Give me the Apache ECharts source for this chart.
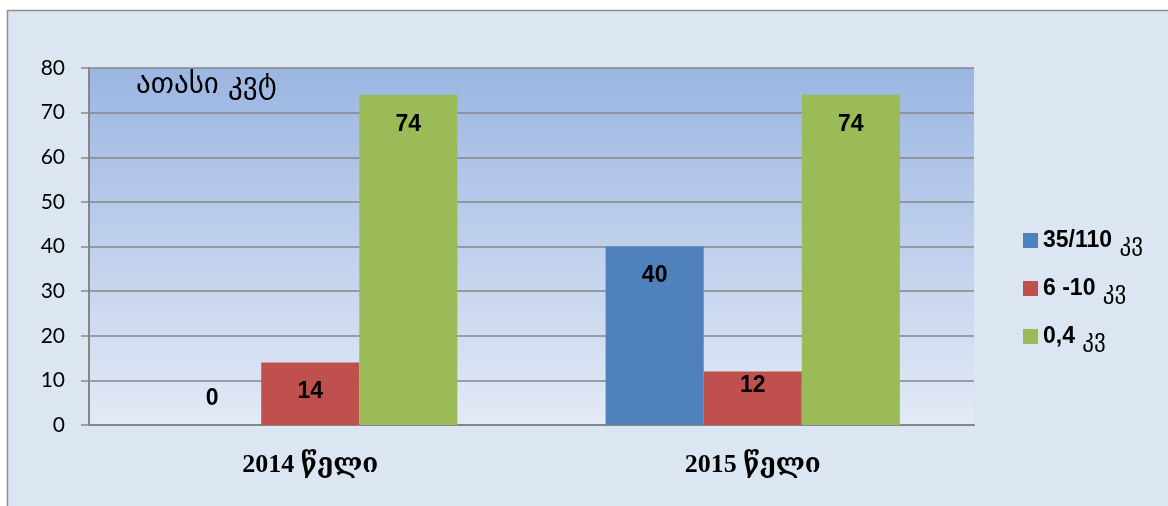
<!DOCTYPE html>
<html>
<head>
<meta charset="utf-8">
<script src="https://cdn.jsdelivr.net/npm/echarts@6/dist/echarts.min.js"></script>
<style>
  html, body { margin: 0; padding: 0; background: #fff; }
  #chart { width: 1168px; height: 506px; }
</style>
</head>
<body>
<div id="chart"></div>
<script>
// data
const categories = ['2014 წელი', '2015 წელი'];
const seriesNames = ['35/110 კვ', '6 -10 კვ', '0,4 კვ'];
const seriesColors = ['#4f81bd', '#c0504d', '#9bbb59'];
const values110 = [0, 40];
const values10 = [14, 12];
const values04 = [74, 74];
const yTicks = [0, 10, 20, 30, 40, 50, 60, 70, 80];
const unitLabel = 'ათასი კვტ';

const allValues = [values110, values10, values04];

const myChart = echarts.init(document.getElementById('chart'));

// label placement, a bit like Excel's "inside end"
function labelFor(v) {
  if (v === 0) return { position: 'top', distance: 15 };
  if (v < 13) return { position: 'insideTop', distance: 3 };
  return { position: 'insideTop', distance: 18 };
}

const series = seriesNames.map(function (name, i) {
  return {
    name: name,
    type: 'bar',
    barGap: '0%',
    barCategoryGap: '33.5%',
    itemStyle: { color: seriesColors[i] },
    label: {
      show: true,
      color: '#000',
      fontFamily: '"Liberation Sans", Arial, sans-serif',
      fontWeight: 'bold',
      fontSize: 23
    },
    data: allValues[i].map(function (v) {
      return { value: v, label: labelFor(v) };
    })
  };
});

const option = {
  backgroundColor: '#ffffff',
  animation: false,
  graphic: [
    {
      type: 'rect',
      z: -10,
      silent: true,
      shape: { x: 7.5, y: 10.5, width: 1200, height: 600 },
      style: { fill: '#dce6f2', stroke: '#8e8e8e', lineWidth: 1.5 }
    },
    {
      type: 'text',
      left: 136,
      top: 71,
      z: 10,
      style: {
        text: unitLabel,
        fill: '#000',
        font: '29px "DejaVu Sans", sans-serif'
      }
    }
  ],
  grid: {
    left: 89,
    right: 194,
    top: 68,
    bottom: 81,
    show: true,
    borderWidth: 0,
    backgroundColor: new echarts.graphic.LinearGradient(0, 0, 0, 1, [
      { offset: 0, color: '#9bb6e2' },
      { offset: 1, color: '#e3eaf6' }
    ])
  },
  legend: {
    orient: 'vertical',
    left: 1018,
    top: 220,
    itemWidth: 15,
    itemHeight: 15,
    itemGap: 17,
    icon: 'rect',
    data: seriesNames,
    formatter: function (name) {
      const parts = name.split(' კვ');
      return '{n|' + parts[0] + '}{g| კვ}';
    },
    textStyle: {
      color: '#000',
      rich: {
        n: {
          fontSize: 23,
          lineHeight: 28,
          fontWeight: 'bold',
          fontFamily: '"Liberation Sans", Arial, sans-serif'
        },
        g: {
          fontSize: 23,
          lineHeight: 20,
          fontFamily: '"DejaVu Sans", sans-serif',
          padding: [8, 0, 0, 0]
        }
      }
    }
  },
  xAxis: {
    type: 'category',
    data: categories,
    axisLine: { lineStyle: { color: '#868686', width: 2 } },
    axisTick: { show: false },
    axisLabel: {
      color: '#000',
      fontSize: 26,
      fontWeight: 'bold',
      fontFamily: '"Liberation Serif", "DejaVu Serif", serif',
      margin: 27
    }
  },
  yAxis: {
    type: 'value',
    min: yTicks[0],
    max: yTicks[yTicks.length - 1],
    interval: 10,
    axisLine: { show: true, lineStyle: { color: '#868686', width: 2 } },
    axisTick: { show: true, length: 8, lineStyle: { color: '#868686', width: 1.5 } },
    splitLine: { lineStyle: { color: '#868686', width: 1.5 } },
    axisLabel: {
      color: '#000',
      fontSize: 21,
      fontFamily: 'Lato, "Open Sans", sans-serif',
      margin: 24
    }
  },
  series: series
};

myChart.setOption(option);
</script>
</body>
</html>
